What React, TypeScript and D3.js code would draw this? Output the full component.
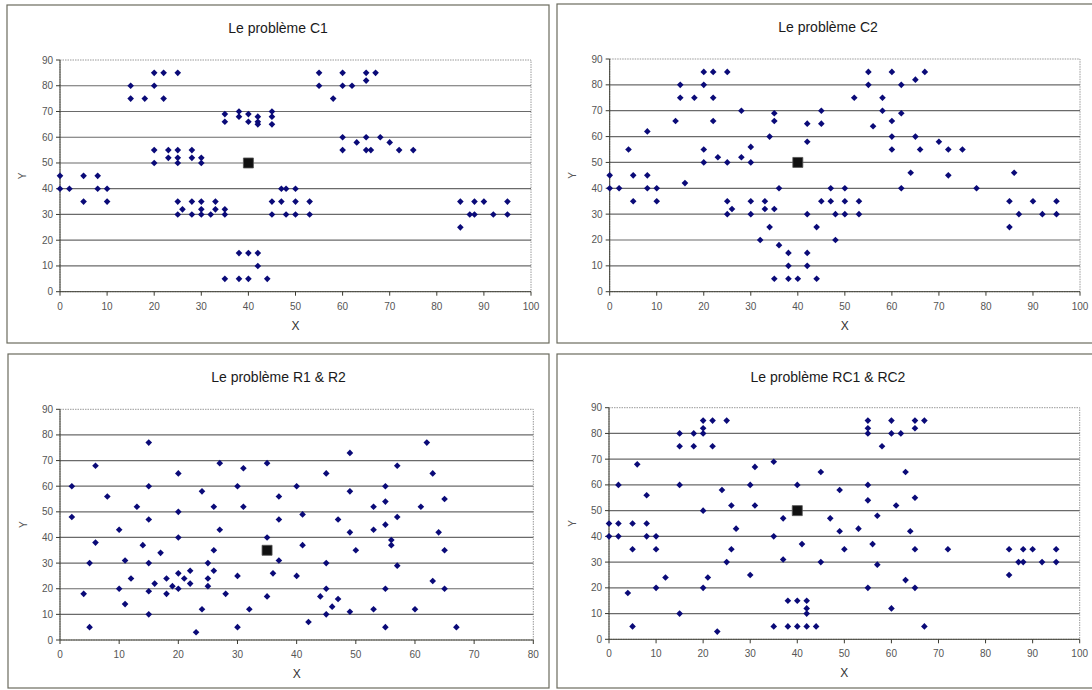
import React from 'react';
import * as d3 from 'd3';

// customer coordinates [x, y]
const c1Customers = [
  [45, 68], [45, 70], [42, 66], [42, 68], [42, 65], [40, 69], [40, 66], [38, 68], [38, 70], [35, 66],
  [35, 69], [25, 85], [22, 75], [22, 85], [20, 80], [20, 85], [18, 75], [15, 75], [15, 80], [30, 50],
  [30, 52], [28, 52], [28, 55], [25, 50], [25, 52], [25, 55], [23, 52], [23, 55], [20, 50], [20, 55],
  [10, 35], [10, 40], [8, 40], [8, 45], [5, 35], [5, 45], [2, 40], [0, 40], [0, 45], [35, 30],
  [35, 32], [33, 32], [33, 35], [32, 30], [30, 30], [30, 32], [30, 35], [28, 30], [28, 35], [26, 32],
  [25, 30], [25, 35], [44, 5], [42, 10], [42, 15], [40, 5], [40, 15], [38, 5], [38, 15], [35, 5],
  [50, 30], [50, 35], [50, 40], [48, 30], [48, 40], [47, 35], [47, 40], [45, 30], [45, 35], [95, 30],
  [95, 35], [53, 30], [92, 30], [53, 35], [45, 65], [90, 35], [88, 30], [88, 35], [87, 30], [85, 25],
  [85, 35], [75, 55], [72, 55], [70, 58], [68, 60], [66, 55], [65, 55], [65, 60], [63, 58], [60, 55],
  [60, 60], [67, 85], [65, 85], [65, 82], [62, 80], [60, 80], [60, 85], [58, 75], [55, 80], [55, 85],
];

const c2Customers = [
  [0, 45], [0, 40], [2, 40], [4, 55], [5, 45], [5, 35], [8, 45], [8, 40], [8, 62], [10, 40],
  [10, 35], [14, 66], [15, 80], [15, 75], [16, 42], [18, 75], [20, 85], [20, 80], [20, 55], [20, 50],
  [22, 85], [22, 75], [22, 66], [23, 52], [25, 85], [25, 50], [25, 35], [25, 30], [26, 32], [28, 70],
  [28, 52], [30, 56], [30, 50], [30, 35], [30, 30], [33, 35], [33, 32], [34, 60], [34, 25], [32, 20],
  [35, 69], [35, 66], [35, 32], [35, 5], [36, 40], [36, 18], [38, 15], [38, 10], [38, 5], [40, 5],
  [42, 65], [42, 58], [42, 30], [42, 15], [42, 10], [44, 25], [44, 5], [45, 70], [45, 65], [45, 35],
  [47, 40], [47, 35], [48, 30], [48, 20], [50, 40], [50, 35], [50, 30], [53, 35], [53, 30], [52, 75],
  [55, 85], [55, 80], [58, 75], [58, 70], [56, 64], [60, 85], [62, 80], [62, 69], [60, 66], [65, 82],
  [67, 85], [60, 60], [60, 55], [65, 60], [66, 55], [70, 58], [72, 55], [75, 55], [64, 46], [72, 45],
  [62, 40], [78, 40], [86, 46], [85, 35], [90, 35], [95, 35], [87, 30], [92, 30], [95, 30], [85, 25],
];

const r1Customers = [
  [41, 49], [35, 17], [55, 45], [55, 20], [15, 30], [25, 30], [20, 50], [10, 43], [55, 60], [30, 60],
  [20, 65], [50, 35], [30, 25], [15, 10], [30, 5], [10, 20], [5, 30], [20, 40], [15, 60], [45, 65],
  [45, 20], [45, 10], [55, 5], [65, 35], [65, 20], [45, 30], [35, 40], [41, 37], [64, 42], [40, 60],
  [31, 52], [35, 69], [53, 52], [65, 55], [63, 65], [2, 60], [20, 20], [5, 5], [60, 12], [40, 25],
  [42, 7], [24, 12], [23, 3], [11, 14], [6, 38], [2, 48], [8, 56], [13, 52], [6, 68], [47, 47],
  [49, 58], [27, 43], [37, 31], [57, 29], [63, 23], [53, 12], [32, 12], [36, 26], [21, 24], [17, 34],
  [12, 24], [24, 58], [27, 69], [15, 77], [62, 77], [49, 73], [67, 5], [56, 39], [37, 47], [37, 56],
  [57, 68], [47, 16], [44, 17], [46, 13], [49, 11], [49, 42], [53, 43], [61, 52], [57, 48], [56, 37],
  [55, 54], [15, 47], [14, 37], [11, 31], [16, 22], [4, 18], [28, 18], [26, 52], [26, 35], [31, 67],
  [15, 19], [22, 22], [18, 24], [26, 27], [25, 24], [22, 27], [25, 21], [19, 21], [20, 26], [18, 18],
];

const rc1Customers = [
  [25, 85], [22, 75], [22, 85], [20, 80], [20, 85], [18, 75], [15, 75], [15, 80], [10, 35], [10, 40],
  [8, 40], [8, 45], [5, 35], [5, 45], [2, 40], [0, 40], [0, 45], [44, 5], [42, 10], [42, 15],
  [40, 5], [40, 15], [38, 5], [38, 15], [35, 5], [95, 30], [95, 35], [92, 30], [90, 35], [88, 30],
  [88, 35], [87, 30], [85, 25], [85, 35], [67, 85], [65, 85], [65, 82], [62, 80], [60, 80], [60, 85],
  [58, 75], [55, 80], [55, 85], [55, 82], [20, 82], [18, 80], [2, 45], [42, 5], [42, 12], [72, 35],
  [55, 20], [25, 30], [20, 50], [55, 60], [30, 60], [50, 35], [30, 25], [15, 10], [10, 20], [15, 60],
  [45, 65], [65, 35], [65, 20], [45, 30], [35, 40], [41, 37], [64, 42], [40, 60], [31, 52], [35, 69],
  [65, 55], [63, 65], [2, 60], [20, 20], [5, 5], [60, 12], [23, 3], [8, 56], [6, 68], [47, 47],
  [49, 58], [27, 43], [37, 31], [57, 29], [63, 23], [21, 24], [12, 24], [24, 58], [67, 5], [37, 47],
  [49, 42], [53, 43], [61, 52], [57, 48], [56, 37], [55, 54], [4, 18], [26, 52], [26, 35], [31, 67],
];

const c1Depot = [40, 50];
const c2Depot = [40, 50];
const r1Depot = [35, 35];
const rc1Depot = [40, 50];

const xTicks100 = [0, 10, 20, 30, 40, 50, 60, 70, 80, 90, 100];
const xTicks80 = [0, 10, 20, 30, 40, 50, 60, 70, 80];
const yTicks = [0, 10, 20, 30, 40, 50, 60, 70, 80, 90];

const titles = ['Le problème C1', 'Le problème C2', 'Le problème R1 & R2', 'Le problème RC1 & RC2'];

const FONT = 'Arial, "Liberation Sans", sans-serif';
const diamond = d3.symbol().type(d3.symbolDiamond2).size(28)();
const square = d3.symbol().type(d3.symbolSquare).size(100)();

type Box = { bx: number; by: number; bw: number; bh: number; px0: number; px1: number; py0: number; py1: number };

function Panel({ title, points, depot, xTicks, box }: { title: string; points: number[][]; depot: number[]; xTicks: number[]; box: Box }) {
  const x = d3.scaleLinear().domain([0, xTicks[xTicks.length - 1]]).range([box.px0, box.px1]);
  const y = d3.scaleLinear().domain([0, 90]).range([box.py1, box.py0]);
  const cx = box.bx + box.bw / 2;
  return (
    <g>
      <rect x={box.bx} y={box.by} width={box.bw} height={box.bh} fill="#fff" stroke="#6b6b5e" strokeWidth={1.2} />
      <text x={cx} y={box.by + 28} textAnchor="middle" fontSize={14} fill="#1a1a1a" fontFamily={FONT}>{title}</text>
      {/* plot area border */}
      <rect x={box.px0} y={box.py0} width={box.px1 - box.px0} height={box.py1 - box.py0} fill="none" stroke="#999" strokeDasharray="1.5,1" />
      {yTicks.slice(1, -1).map(t => (
        <line key={t} x1={box.px0} x2={box.px1} y1={y(t)} y2={y(t)} stroke="#6a6a6a" strokeWidth={1.2} />
      ))}
      <line x1={box.px0} x2={box.px0} y1={y(0)} y2={y(90)} stroke="#3a3a30" />
      <line x1={box.px0} x2={box.px1} y1={y(0)} y2={y(0)} stroke="#3a3a30" />
      {yTicks.map(t => (
        <g key={t}>
          <line x1={box.px0 - 4} x2={box.px0} y1={y(t)} y2={y(t)} stroke="#3a3a30" />
          <text x={box.px0 - 7} y={y(t) + 3.5} textAnchor="end" fontSize={10} fill="#555" fontFamily={FONT}>{t}</text>
        </g>
      ))}
      {xTicks.map(t => (
        <g key={t}>
          <line x1={x(t)} x2={x(t)} y1={y(0)} y2={y(0) + 4} stroke="#3a3a30" />
          <text x={x(t)} y={y(0) + 18} textAnchor="middle" fontSize={10} fill="#555" fontFamily={FONT}>{t}</text>
        </g>
      ))}
      <text x={(box.px0 + box.px1) / 2} y={y(0) + 38} textAnchor="middle" fontSize={12} fill="#333" fontFamily={FONT}>X</text>
      <text transform={`translate(${box.bx + 19},${(box.py0 + box.py1) / 2}) rotate(-90)`} textAnchor="middle" fontSize={10} fill="#555" fontFamily={FONT}>Y</text>
      {points.map((p, i) => (
        <path key={i} d={diamond} transform={`translate(${x(p[0])},${y(p[1])})`} fill="#0a0a78" />
      ))}
      <path d={square} transform={`translate(${x(depot[0])},${y(depot[1])})`} fill="#111" stroke="#555" strokeWidth={0.8} />
    </g>
  );
}

export default function App() {
  const boxes: Box[] = [
    { bx: 7, by: 5, bw: 542, bh: 338, px0: 60, px1: 531, py0: 60, py1: 291.7 },
    { bx: 557, by: 4, bw: 542, bh: 339, px0: 609.7, px1: 1080, py0: 59, py1: 291.7 },
    { bx: 8, by: 354, bw: 541, bh: 334, px0: 60, px1: 533.3, py0: 409.3, py1: 640 },
    { bx: 557, by: 354, bw: 542, bh: 334, px0: 609, px1: 1079.7, py0: 407.7, py1: 639.3 },
  ];
  const sets = [c1Customers, c2Customers, r1Customers, rc1Customers];
  const depots = [c1Depot, c2Depot, r1Depot, rc1Depot];
  const ticks = [xTicks100, xTicks100, xTicks80, xTicks100];
  return (
    <svg width={1092} height={690} style={{ position: 'absolute', left: 0, top: 0, background: '#fff' }}>
      <rect width={1092} height={690} fill="#fff" />
      {boxes.map((b, i) => (
        <Panel key={i} title={titles[i]} points={sets[i]} depot={depots[i]} xTicks={ticks[i]} box={b} />
      ))}
    </svg>
  );
}
